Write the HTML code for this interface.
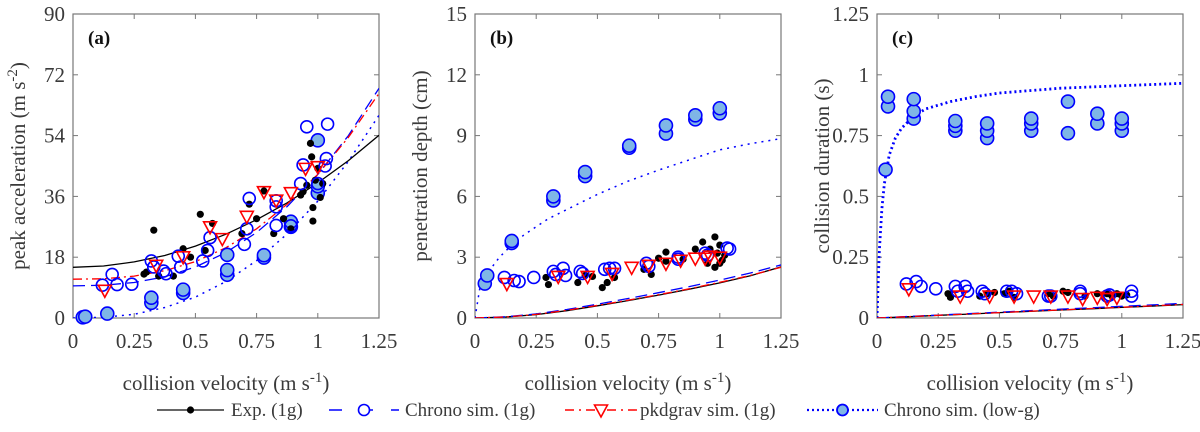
<!DOCTYPE html>
<html><head><meta charset="utf-8"><style>
html,body{margin:0;padding:0;background:#fff;width:1200px;height:432px;overflow:hidden}
svg{display:block;font-family:"Liberation Serif","Times New Roman",Times,"Noto Serif CJK SC","DejaVu Serif",serif}
text{font-family:"Liberation Serif","Times New Roman",Times,"Noto Serif CJK SC","DejaVu Serif",serif;fill:#3a3a3a}
</style></head><body>
<svg id="fig" width="1200" height="432" viewBox="0 0 1200 432" xmlns="http://www.w3.org/2000/svg"></svg>
<script>
const fitX = [0,0.125,0.25,0.375,0.5,0.625,0.75,0.875,1,1.125,1.25];

// ---- panel (a) peak acceleration ----
const aExpX = [0.29,0.30,0.33,0.35,0.41,0.45,0.48,0.52,0.54,0.57,0.69,0.72,0.75,0.78,0.82,0.86,0.89,0.93,0.94,0.955,0.97,0.975,0.98,0.98,0.99,1.0,1.01,1.02];
const aExpY = [13,13.6,26,12.4,12.4,20.5,18,30.7,20,28,25,33.7,29.4,37.6,25,29.4,26.4,36.4,37.4,39.3,51.7,47.7,28.7,32.7,40.8,44.3,35.7,39.8];
const aChX = [0.12,0.16,0.18,0.24,0.32,0.33,0.37,0.38,0.43,0.44,0.53,0.55,0.56,0.70,0.71,0.72,0.83,0.83,0.83,0.89,0.93,0.94,0.955,1.03,1.035,1.04,1.0];
const aChY = [9.7,12.9,9.9,10,16.9,15.1,13.9,13.1,18.3,15.1,16.9,20,23.8,21.8,26.4,35.4,32.9,34.7,27.4,27.3,39.8,45.3,56.6,45,47.2,57.4,39.8];
const aPkX = [0.13,0.34,0.45,0.56,0.61,0.71,0.78,0.83,0.89,0.95,1.0];
const aPkY = [8.2,15.6,18.1,27,23.5,30.1,37.4,34.9,37.1,44.3,44.8];
const aLgX = [0.04,0.05,0.14,0.32,0.32,0.45,0.45,0.63,0.63,0.63,0.78,0.78,0.89,0.89,1.0,1.0,1.0];
const aLgY = [0.2,0.4,1.3,4.5,6,7.4,8.4,12.8,14.2,18.7,17.9,18.6,27,28.5,37,39,52.6];
const aFitExp = [15,15.4,16.6,18.5,21.3,24.8,29.1,34.1,40,46.6,54.1];
const aFitCh = [9.5,9.7,10.5,12.2,15.1,19.4,25.3,33,42.5,54,68];
const aFitPk = [11.5,11.6,12.4,14,16.7,20.8,26.4,33.7,42.5,53.5,66.5];
const aFitLg = [0,0.2,1.1,3.1,6.2,10.8,17,24.9,34.6,46.4,60];
const aTicksY = [0,18,36,54,72,90];

// ---- panel (b) penetration depth ----
const bExpX = [0.29,0.30,0.42,0.45,0.48,0.52,0.54,0.57,0.69,0.72,0.75,0.78,0.78,0.85,0.90,0.93,0.95,0.96,0.98,0.98,0.99,1.0,1.01,1.02,1.0];
const bExpY = [2.0,1.65,1.75,2.1,2.05,1.5,1.75,2.0,2.4,2.15,2.95,2.8,3.25,2.9,3.4,3.75,2.7,3.4,4.0,2.5,3.2,3.6,2.85,3.1,2.7];
const bChX = [0.12,0.16,0.18,0.24,0.32,0.33,0.36,0.37,0.43,0.44,0.53,0.55,0.57,0.70,0.71,0.83,0.83,0.94,0.95,1.04,1.03];
const bChY = [2.0,1.85,1.8,2.0,2.3,2.15,2.45,2.1,2.3,2.2,2.4,2.45,2.45,2.7,2.55,3.0,2.9,3.2,3.1,3.4,3.45];
const bPkX = [0.13,0.34,0.46,0.56,0.64,0.71,0.78,0.84,0.90,0.94,1.0,0.96];
const bPkY = [1.7,2.05,2.05,2.2,2.5,2.6,2.7,2.85,2.95,2.95,3.0,3.05];
const bLgX = [0.04,0.05,0.15,0.15,0.32,0.32,0.45,0.45,0.63,0.63,0.78,0.78,0.90,0.90,1.0,1.0];
const bLgY = [1.7,2.1,3.7,3.8,5.8,6.0,7.0,7.2,8.4,8.5,9.1,9.5,9.8,10.0,10.1,10.35];
const bFitExp = [0,0.05,0.17,0.36,0.6,0.86,1.13,1.42,1.73,2.08,2.52];
const bFitCh = [0,0.06,0.2,0.42,0.68,0.96,1.25,1.55,1.87,2.22,2.62];
const bFitPk = [0,0.05,0.18,0.38,0.62,0.88,1.15,1.44,1.76,2.1,2.5];
const bFitLgX = [0,0.02,0.05,0.1,0.15,0.2,0.3,0.4,0.5,0.625,0.75,0.875,1,1.125,1.25];
const bFitLgY = [0,1.5,2.2,3.0,3.6,4.1,4.9,5.5,6.1,6.75,7.3,7.8,8.3,8.6,8.85];
const bTicksY = [0,3,6,9,12,15];

// ---- panel (c) collision duration ----
const cExpX = [0.29,0.30,0.42,0.45,0.48,0.52,0.54,0.56,0.70,0.72,0.76,0.78,0.85,0.90,0.94,0.96,0.98,1.0,1.02];
const cExpY = [0.1,0.085,0.09,0.1,0.105,0.1,0.11,0.085,0.1,0.09,0.11,0.105,0.09,0.1,0.1,0.09,0.1,0.09,0.095];
const cChX = [0.12,0.16,0.18,0.24,0.32,0.33,0.36,0.37,0.43,0.44,0.53,0.55,0.57,0.70,0.71,0.83,0.83,0.94,0.95,1.04,1.04];
const cChY = [0.14,0.15,0.13,0.12,0.13,0.11,0.13,0.11,0.11,0.1,0.11,0.11,0.1,0.09,0.09,0.1,0.11,0.09,0.095,0.11,0.09];
const cPkX = [0.13,0.34,0.46,0.56,0.64,0.71,0.78,0.84,0.90,0.94,0.98];
const cPkY = [0.12,0.09,0.09,0.09,0.09,0.09,0.09,0.08,0.085,0.08,0.085];
const cLgX = [0.035,0.045,0.045,0.15,0.15,0.15,0.32,0.32,0.32,0.45,0.45,0.45,0.63,0.63,0.63,0.78,0.78,0.90,0.90,1.0,1.0,1.0];
const cLgY = [0.61,0.87,0.91,0.82,0.85,0.9,0.77,0.79,0.81,0.74,0.77,0.80,0.77,0.80,0.82,0.76,0.89,0.80,0.84,0.77,0.80,0.82];
const cFitExp = [0,0.005,0.011,0.016,0.022,0.027,0.033,0.038,0.044,0.049,0.055];
const cFitCh = [0,0.006,0.012,0.018,0.024,0.03,0.036,0.042,0.048,0.054,0.06];
const cFitPk = [0,0.0055,0.011,0.017,0.022,0.028,0.033,0.039,0.044,0.05,0.056];
const cFitLgX = [0,0.005,0.01,0.02,0.03,0.05,0.075,0.1,0.15,0.2,0.3,0.4,0.5,0.75,1,1.25];
const cFitLgY = [0,0.15,0.28,0.45,0.55,0.67,0.74,0.78,0.83,0.86,0.89,0.91,0.925,0.945,0.955,0.965];
const cTicksY = [0,0.25,0.5,0.75,1,1.25];
const cTickLabels = ["0","0.25","0.5","0.75","1","1.25"];

const xTicks = [0,0.25,0.5,0.75,1,1.25];
const xTickLabels = ["0","0.25","0.5","0.75","1","1.25"];

const NS = "http://www.w3.org/2000/svg";
const svg = document.getElementById("fig");
function mk(tag, attrs, parent){
  const e = document.createElementNS(NS, tag);
  for (const k in attrs) e.setAttribute(k, attrs[k]);
  if (tag === "text") e.style.fontFamily = '"Liberation Serif","Times New Roman",Times,"Noto Serif CJK SC","DejaVu Serif",serif';
  (parent||svg).appendChild(e);
  return e;
}
const TOP=14, BOT=318;

function panel(opts){
  const L=opts.left, R=opts.left+306;
  const ymax = opts.yTicks[opts.yTicks.length-1];
  const sx = v => L + v/1.25*(R-L);
  const sy = v => BOT - v/ymax*(BOT-TOP);
  const g = mk("g", {});
  
  
  const clip = mk("clipPath", {id:"clip"+opts.name}, g);
  mk("rect", {x:L, y:TOP, width:R-L, height:BOT-TOP}, clip);
  const box = mk("rect", {x:L, y:TOP, width:R-L, height:BOT-TOP, fill:"none", stroke:"#777", "stroke-width":1.2}, g);
  
  
  opts.yTicks.forEach((t,i) => {
    const y = sy(t);
    mk("line", {x1:L, x2:L+5, y1:y, y2:y, stroke:"#777"}, g);
    mk("line", {x1:R, x2:R-5, y1:y, y2:y, stroke:"#777"}, g);
    const tx = mk("text", {x:L-8, y:y+7, "text-anchor":"end", "font-size":21}, g);
    tx.textContent = opts.yLabels ? opts.yLabels[i] : String(t);
    
    
  });
  xTicks.forEach((t,i) => {
    const x = sx(t);
    mk("line", {x1:x, x2:x, y1:BOT, y2:BOT-5, stroke:"#777"}, g);
    mk("line", {x1:x, x2:x, y1:TOP, y2:TOP+5, stroke:"#777"}, g);
    const tx = mk("text", {x:x, y:348, "text-anchor":"middle", "font-size":21}, g);
    tx.textContent = xTickLabels[i];
    
    
  });
  const xt = mk("text", {x:(L+R)/2, y:390, "text-anchor":"middle", "font-size":21}, g);
  xt.innerHTML = 'collision velocity (m s<tspan dy="-8" font-size="15">-1</tspan><tspan dy="8">)</tspan>';
  
  
  const yt = mk("text", {x:0, y:0, "text-anchor":"middle", "font-size":21, transform:`translate(${L-48},${(TOP+BOT)/2}) rotate(-90)`}, g);
  yt.innerHTML = opts.yTitle;
  
  
  const pl = mk("text", {x:L+15, y:TOP+30, "font-size":19, "font-weight":"bold", style:"fill:#111"}, g);
  pl.textContent = opts.label;
  
  

  const cg = mk("g", {"clip-path":`url(#clip${opts.name})`}, g);
  function line(xs, ys, stroke, dash, w, name){
    const d = xs.map((x,i)=>(i?"L":"M")+sx(x).toFixed(1)+","+sy(ys[i]).toFixed(1)).join("");
    const p = mk("path", {d:d, fill:"none", stroke:stroke, "stroke-width":w||1.3, "stroke-dasharray":dash||"none"}, cg);
    
    
  }
  line(opts.fitLgX, opts.fitLgY, "#0000ff", opts.lgDash, opts.lgW, "fit-line-low-g");
  line(fitX, opts.fitExp, "#000", null, 1.3, "fit-line-exp");
  line(fitX, opts.fitCh, "#0000ff", "12,6", 1.3, "fit-line-chrono");
  line(fitX, opts.fitPk, "#ff0000", "9,4,2,4", 1.3, "fit-line-pkdgrav");

  opts.lgX.forEach((x,i)=>{
    const c = mk("circle", {cx:sx(x), cy:sy(opts.lgY[i]), r:6.5, fill:"#7fb6e6", stroke:"#0000ff", "stroke-width":1.6}, g);
    
    
  });
  opts.expX.forEach((x,i)=>{
    const c = mk("circle", {cx:sx(x), cy:sy(opts.expY[i]), r:3.6, fill:"#000"}, g);
    
    
  });
  opts.chX.forEach((x,i)=>{
    const c = mk("circle", {cx:sx(x), cy:sy(opts.chY[i]), r:6, fill:"none", stroke:"#0000ff", "stroke-width":1.6}, g);
    
    
  });
  opts.pkX.forEach((x,i)=>{
    const cx=sx(x), cy=sy(opts.pkY[i]);
    const t = mk("polygon", {points:`${cx-6.5},${cy-5} ${cx+6.5},${cy-5} ${cx},${cy+7}`, fill:"none", stroke:"#ff0000", "stroke-width":1.6}, g);
    
    
  });
}

panel({name:"panel-a", left:73, label:"(a)", yTicks:aTicksY,
  yTitle:'peak acceleration (m s<tspan dy="-8" font-size="15">-2</tspan><tspan dy="8">)</tspan>',
  expX:aExpX, expY:aExpY, chX:aChX, chY:aChY, pkX:aPkX, pkY:aPkY, lgX:aLgX, lgY:aLgY,
  fitExp:aFitExp, fitCh:aFitCh, fitPk:aFitPk, fitLgX:fitX, fitLgY:aFitLg, lgDash:"2,5", lgW:1.5});
panel({name:"panel-b", left:475, label:"(b)", yTicks:bTicksY,
  yTitle:'penetration depth (cm)',
  expX:bExpX, expY:bExpY, chX:bChX, chY:bChY, pkX:bPkX, pkY:bPkY, lgX:bLgX, lgY:bLgY,
  fitExp:bFitExp, fitCh:bFitCh, fitPk:bFitPk, fitLgX:bFitLgX, fitLgY:bFitLgY, lgDash:"2,5", lgW:1.5});
panel({name:"panel-c", left:877, label:"(c)", yTicks:cTicksY, yLabels:cTickLabels,
  yTitle:'collision duration (s)',
  expX:cExpX, expY:cExpY, chX:cChX, chY:cChY, pkX:cPkX, pkY:cPkY, lgX:cLgX, lgY:cLgY,
  fitExp:cFitExp, fitCh:cFitCh, fitPk:cFitPk, fitLgX:cFitLgX, fitLgY:cFitLgY, lgDash:"2,3", lgW:2.8});

const lg = mk("g", {});


const LY = 410;
function legendEntry(x1, x2, stroke, dash, w, marker, label, tx){
  const e = mk("g", {}, lg);
  
  
  mk("line", {x1:x1, x2:x2, y1:LY, y2:LY, stroke:stroke, "stroke-width":w, "stroke-dasharray":dash||"none"}, e);
  const mx=(x1+x2)/2;
  if (marker==="dot") mk("circle", {cx:mx, cy:LY, r:3.6, fill:"#000"}, e);
  if (marker==="open") mk("circle", {cx:mx, cy:LY, r:5.5, fill:"#fff", stroke:"#0000ff", "stroke-width":1.6}, e);
  if (marker==="tri") mk("polygon", {points:`${mx-6.5},${LY-5} ${mx+6.5},${LY-5} ${mx},${LY+7}`, fill:"#fff", stroke:"#ff0000", "stroke-width":1.6}, e);
  if (marker==="fill") mk("circle", {cx:mx, cy:LY, r:5.5, fill:"#7fb6e6", stroke:"#0000ff", "stroke-width":1.8}, e);
  const t = mk("text", {x:tx, y:LY+6, "font-size":19}, e);
  t.textContent = label;
}
legendEntry(157, 224, "#333", null, 1.4, "dot", "Exp. (1g)", 231);
legendEntry(329, 399, "#0000ff", "13,18", 1.5, "open", "Chrono sim. (1g)", 405);
legendEntry(565, 637, "#ff0000", "9,5,2,5", 1.4, "tri", "pkdgrav sim. (1g)", 640);
legendEntry(807, 878, "#0000ff", "2,3", 2.2, "fill", "Chrono sim. (low-g)", 884);
</script>
</body></html>
